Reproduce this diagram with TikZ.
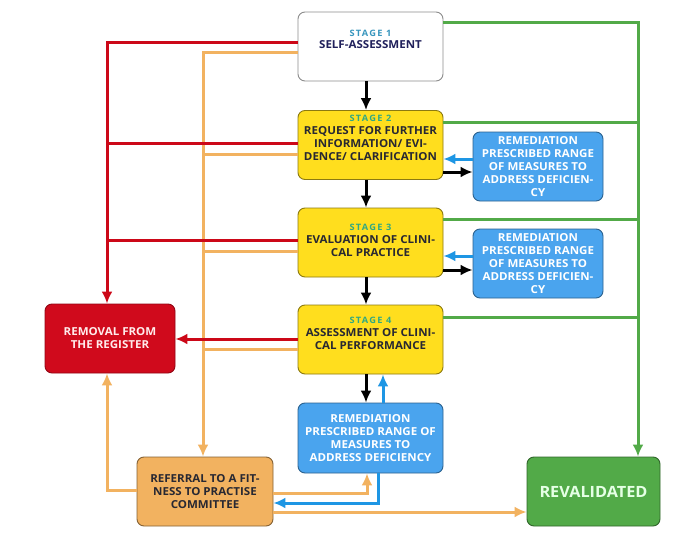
\documentclass[tikz,border=0pt]{standalone}
\usepackage{fontspec}
\setmainfont[FakeStretch=1.05]{Open Sans}
\newfontfamily\stgfam[FakeStretch=1.05,LetterSpace=14]{Open Sans}
\usetikzlibrary{arrows.meta}
\definecolor{cred}{RGB}{204,8,24}
\definecolor{cored}{RGB}{208,10,28}
\definecolor{corange}{RGB}{242,178,96}
\definecolor{cgreen}{RGB}{82,170,72}
\definecolor{cblue}{RGB}{74,164,238}
\definecolor{cblueline}{RGB}{30,150,228}
\definecolor{cyellow}{RGB}{255,222,30}
\definecolor{ctext}{RGB}{40,40,50}
\definecolor{ctealA}{RGB}{56,150,190}
\definecolor{ctealB}{RGB}{48,168,130}
\newcommand\stgfont{\stgfam\bfseries\fontsize{8.8}{12}\selectfont}
\newcommand\bxfont{\bfseries\fontsize{11}{13}\selectfont}
\tikzset{
  box/.style={draw, rounded corners=7pt, line width=0.9pt, minimum width=#1, inner sep=0pt},
  stagebox/.style={box=145pt, minimum height=69pt, fill=cyellow, draw=black!45!cyellow},
  remb/.style={box=130pt, minimum height=69pt, fill=cblue, draw=cblue!60!black, text=white, font=\bxfont, align=center},
  txt/.style={align=center, font=\bxfont, text=ctext, inner sep=0pt},
  ln/.style={line width=3pt},
  ar/.style={line width=3pt, -{Latex[length=12pt,width=11pt]}},
}
\begin{document}
\begin{tikzpicture}[x=1pt,y=-1pt]
\useasboundingbox (0,0) rectangle (673,549);
\fill[white] (0,0) rectangle (673,549);
% boxes
\node[stagebox, fill=white, draw=black!45] (s1) at (370.5,46.5) {};
\node[stagebox] (s2) at (370.5,145) {};
\node[stagebox] (s3) at (370.5,242.5) {};
\node[stagebox] (s4) at (370.5,339.5) {};
\node[remb] (r2) at (538,166.5) {REMEDIATION\\PRESCRIBED RANGE\\OF MEASURES TO\\ADDRESS DEFICIEN-\\CY};
\node[remb] (r3) at (538,263.5) {REMEDIATION\\PRESCRIBED RANGE\\OF MEASURES TO\\ADDRESS DEFICIEN-\\CY};
\node[remb, minimum width=145pt, minimum height=70pt] (r4) at (370.5,438) {REMEDIATION\\PRESCRIBED RANGE OF\\MEASURES TO\\ADDRESS DEFICIENCY};
\node[box=130pt, minimum height=69pt, fill=cored, draw=cored!70!black, text=white!92!red, font=\bxfont, align=center] (rem) at (110,338.5) {REMOVAL FROM\\THE REGISTER};
\node[box=136pt, minimum height=69pt, fill=corange, draw=corange!55!black, text=ctext, font=\bxfont, align=center] (ref) at (205,491.5) {REFERRAL TO A FIT-\\NESS TO PRACTISE\\COMMITTEE};
\node[box=133pt, minimum height=69pt, fill=cgreen, draw=cgreen!60!black, text=white!90!green, font=\bfseries\fontsize{15.5}{18}\selectfont] (rev) at (593.5,491.5) {REVALIDATED};
% stage texts
\node[txt] (t1) at (370.5,39.5) {{\stgfont\color{ctealA}STAGE 1}\\[-1pt]{\color{ctext!80!blue}SELF-ASSESSMENT}};
\node[txt] (t2) at (370.5,137.5) {{\stgfont\color{ctealB}STAGE 2}\\REQUEST FOR FURTHER\\INFORMATION/ EVI-\\DENCE/ CLARIFICATION};
\node[txt] (t3) at (370.5,240) {{\stgfont\color{ctealB}STAGE 3}\\EVALUATION OF CLINI-\\CAL PRACTICE};
\node[txt] (t4) at (370.5,333) {{\stgfont\color{ctealB}STAGE 4}\\ASSESSMENT OF CLINI-\\CAL PERFORMANCE};
% coordinates
\coordinate (rx) at (107,0);
\coordinate (ox) at (203,0);
\coordinate (gx) at (638,0);
% green
\draw[ln, cgreen] (s2.east |- 0,122) -- (gx |- 0,122);
\draw[ln, cgreen] (s3.east |- 0,219) -- (gx |- 0,219);
\draw[ln, cgreen] (s4.east |- 0,317) -- (gx |- 0,317);
\draw[ar, cgreen] (s1.east |- 0,22) -| (rev.north -| gx);
% orange
\draw[ln, corange] (s2.west |- 0,154) -- (ox |- 0,154);
\draw[ln, corange] (s3.west |- 0,251) -- (ox |- 0,251);
\draw[ln, corange] (s4.west |- 0,349) -- (ox |- 0,349);
\draw[ar, corange] (s1.west |- 0,52) -| (ref.north -| ox);
% red
\draw[ln, cred] (s2.west |- 0,143) -- (rx |- 0,143);
\draw[ln, cred] (s3.west |- 0,240) -- (rx |- 0,240);
\draw[ar, cred] (s1.west |- 0,42) -| (rem.north -| rx);
\draw[ar, cred] (s4.west |- 0,339) -- (rem.east |- 0,339);
% orange from referral
\draw[ar, corange] (ref.west |- 0,490) -| (rem.south -| rx);
\draw[ar, corange] (ref.east |- 0,493) -| (r4.south -| 367,0);
\draw[ar, corange] (ref.east |- 0,512) -- (rev.west |- 0,512);
% blue
\draw[ar, cblueline] (r4.south -| 378,0) |- (ref.east |- 0,503);
\draw[ar, cblueline] (r4.north -| 383,0) -- (s4.south -| 383,0);
\draw[ar, cblueline] (r2.west |- 0,159) -- (s2.east |- 0,159);
\draw[ar, cblueline] (r3.west |- 0,256) -- (s3.east |- 0,256);
% black
\draw[ar, black] (s1.south -| 366,0) -- (s2.north -| 366,0);
\draw[ar, black] (s2.south -| 366,0) -- (s3.north -| 366,0);
\draw[ar, black] (s3.south -| 366,0) -- (s4.north -| 366,0);
\draw[ar, black] (s4.south -| 366,0) -- (r4.north -| 366,0);
\draw[ar, black] (s2.east |- 0,172) -- (r2.west |- 0,172);
\draw[ar, black] (s3.east |- 0,270) -- (r3.west |- 0,270);
\end{tikzpicture}
\end{document}
